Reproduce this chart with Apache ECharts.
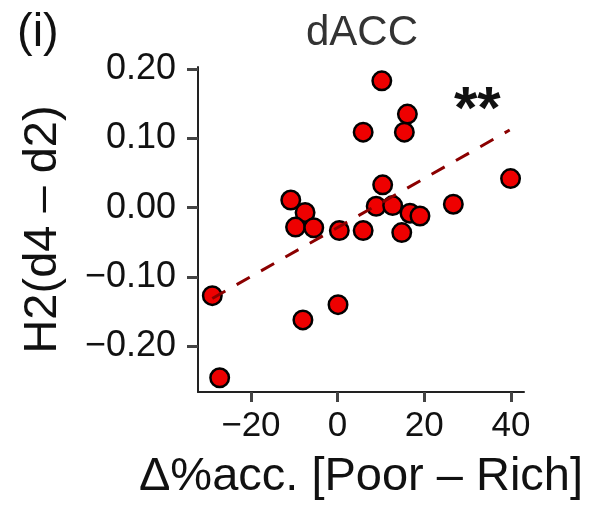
<!DOCTYPE html>
<html>
<head>
<meta charset="utf-8">
<script src="https://cdn.jsdelivr.net/npm/echarts@6/dist/echarts.min.js"></script>
<style>
  html, body { margin: 0; padding: 0; background: #fff; }
  #chart { width: 590px; height: 509px; }
</style>
</head>
<body>
<div id="chart"></div>
<script>
// Δ%acc. [Poor – Rich] per subject
const accDiff = [-28.9, -27.2, -10.8, -7.5, -9.7, -5.5, -8.0, 0.4, 0.1, 5.9, 5.9,
  10.2, 10.4, 8.9, 12.7, 16.1, 15.4, 16.7, 19.0, 14.8, 26.7, 39.9];
// H2(d4 – d2) per subject
const h2Diff = [-0.127, -0.2455, 0.011, -0.007, -0.028, -0.029, -0.162, -0.033, -0.140, 0.109, -0.033,
  0.183, 0.033, 0.002, 0.003, 0.135, 0.109, -0.008, -0.012, -0.036, 0.005, 0.042];

// fitted regression line (end points)
const fitX = [-28.9, 39.7];
const fitY = [-0.131, 0.112];

const xTicks = [-20, 0, 20, 40];
const yTicks = [-0.2, -0.1, 0, 0.1, 0.2];

const FONT = "'Liberation Sans', Arial, Helvetica, sans-serif";
const fmtNum = (v, d) => {
  const s = Math.abs(v).toFixed(d);
  return v < -1e-9 ? '\u2212' + s : s;
};

const chart = echarts.init(document.getElementById('chart'));

chart.setOption({
  animation: false,
  backgroundColor: '#ffffff',
  title: {
    text: 'dACC',
    left: 357,
    top: 7,
    textAlign: 'center',
    textStyle: { fontFamily: FONT, fontSize: 42, fontWeight: 'normal', color: '#333333' }
  },
  graphic: [
    {
      type: 'text', left: 17, top: 10,
      style: { text: '(i)', font: '47px ' + FONT, fill: '#111' }
    },
    {
      type: 'text', left: 454, top: 81,
      style: { text: '**', font: 'bold 60px ' + FONT, fill: '#111' }
    }
  ],
  grid: { left: 198, top: 67, width: 326, height: 325, containLabel: false },
  xAxis: {
    type: 'value',
    min: -32.2,
    max: 43,
    name: 'Δ%acc. [Poor – Rich]',
    nameLocation: 'middle',
    nameGap: 62,
    nameTextStyle: { fontFamily: FONT, fontSize: 47, color: '#111' },
    axisLine: { onZero: false, lineStyle: { color: '#222', width: 2 } },
    axisTick: { show: true, customValues: xTicks, length: 10, lineStyle: { color: '#444', width: 3 } },
    axisLabel: {
      customValues: xTicks, margin: 17,
      fontFamily: FONT, fontSize: 35, color: '#111',
      formatter: v => fmtNum(v, 0)
    },
    splitLine: { show: false }
  },
  yAxis: {
    type: 'value',
    min: -0.266,
    max: 0.203,
    name: 'H2(d4 – d2)',
    nameLocation: 'middle',
    nameGap: 131,
    nameTextStyle: { fontFamily: FONT, fontSize: 47, color: '#111' },
    axisLine: { onZero: false, lineStyle: { color: '#222', width: 2 } },
    axisTick: { show: true, customValues: yTicks, length: 11, lineStyle: { color: '#444', width: 3 } },
    axisLabel: {
      customValues: yTicks, margin: 22,
      fontFamily: FONT, fontSize: 36, color: '#111',
      formatter: v => fmtNum(v, 2)
    },
    splitLine: { show: false }
  },
  series: [
    {
      type: 'scatter',
      data: accDiff.map((x, i) => [x, h2Diff[i]]),
      symbol: 'circle',
      symbolSize: 18.5,
      itemStyle: { color: '#ee0000', borderColor: '#000', borderWidth: 2.5, opacity: 1 },
      z: 2
    },
    {
      type: 'line',
      data: fitX.map((x, i) => [x, fitY[i]]),
      symbol: 'none',
      lineStyle: { color: '#8b0000', width: 3, type: [15, 13] },
      z: 3
    }
  ]
});
</script>
</body>
</html>
